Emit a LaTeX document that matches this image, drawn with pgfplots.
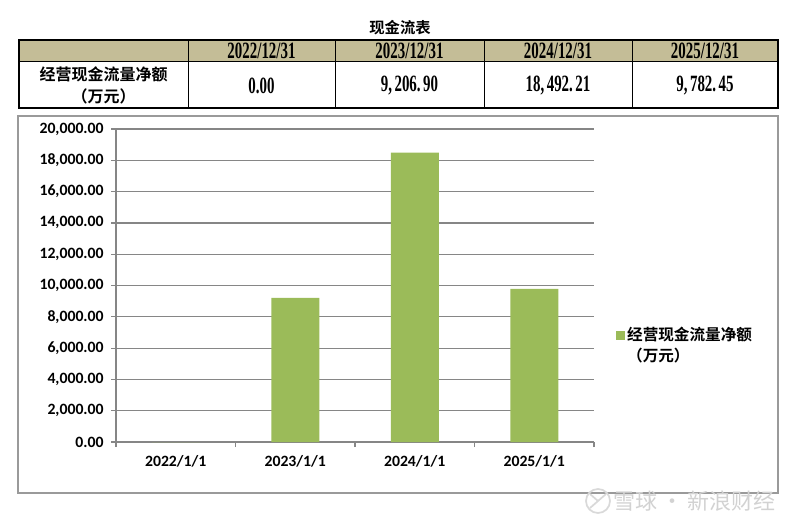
\documentclass[border=0pt]{standalone}
\usepackage{fontspec}
\setmainfont{Carlito}
\newfontfamily\cjk{Noto Sans CJK SC Bold}
\newfontfamily\cjklight{Noto Sans CJK SC}
\newfontfamily\tserif{Liberation Serif}
\usepackage{graphicx}
\usepackage{pgfplots}
\pgfplotsset{compat=1.18}
\definecolor{hdrtan}{HTML}{C4BD97}
\definecolor{bargreen}{HTML}{9BBB59}
\definecolor{gridgray}{HTML}{868686}
\definecolor{boxgray}{HTML}{9A9A9A}
% table numbers: tall, narrow serif digits
\newcommand{\tnum}[1]{\scalebox{0.64}[1]{\tserif\bfseries\fontsize{17.5}{17.5}\selectfont #1}}

\begin{document}
\begin{tikzpicture}[x=0.75pt,y=0.75pt]
\path[use as bounding box] (0,0) rectangle (800,522);

% title
\node[font=\cjk\fontsize{11.5}{12}\selectfont] at (400,494) {现金流表};

% table
\fill[hdrtan] (19,482) rectangle (778,460);
\draw[line width=0.75pt] (19,460) -- (778,460);
\foreach \x in {188,335,484,632} \draw[line width=0.75pt] (\x,482) -- (\x,414);
\draw[line width=1.5pt] (19,482) rectangle (778,414);
\node at (261.5,471) {\tnum{2022/12/31}};
\node at (409.5,471) {\tnum{2023/12/31}};
\node at (558,471) {\tnum{2024/12/31}};
\node at (705,471) {\tnum{2025/12/31}};
\node[font=\cjk\fontsize{12}{16.5}\selectfont, align=center] at (103.5,437) {经营现金流量净额\\（万元）};
\node at (261.5,436) {\tnum{0.00}};
\node at (409.5,436) {\tnum{9,\,206.\,90}};
\node at (558,436) {\tnum{18,\,492.\,21}};
\node at (705,436) {\tnum{9,\,782.\,45}};

% chart frame
\draw[boxgray, line width=1pt] (18,406) rectangle (778,29);

\begin{axis}[
    at={(87pt,60pt)}, anchor=south west,
    scale only axis,
    width=358.5pt, height=234.75pt,
    xmin=-0.5, xmax=3.5, ymin=0, ymax=20000,
    axis lines*=left,
    axis line style={gridgray, line width=0.9pt},
    ybar, bar width=36pt,
    xtick={0,1,2,3},
    xticklabels={2022/1/1,2023/1/1,2024/1/1,2025/1/1},
    major x tick style={draw=none},
    minor xtick={-0.5,0.5,1.5,2.5,3.5},
    ytick={0,2000,...,20000},
    ymajorgrids,
    grid style={gridgray, line width=0.9pt},
    tick align=outside,
    major tick length=3.75pt, minor tick length=3.75pt,
    tick style={gridgray, line width=0.9pt},
    tick label style={font=\bfseries\fontsize{11.8}{12}\selectfont, black},
    yticklabel={\pgfmathprintnumber[fixed, fixed zerofill, precision=2,
        1000 sep={,}, assume math mode=true]{\tick}},
    yticklabel style={xshift=-2pt},
    scaled y ticks=false,
    xticklabel style={yshift=-2.5pt},
    legend style={draw=none, fill=none, inner sep=0pt, outer sep=0pt,
        at={(1.045,0.38)}, anchor=north west,
        font=\cjk\fontsize{11.7}{15.75}\selectfont,
        cells={anchor=base west}},
    legend image code/.code={\fill[#1, draw=none] (0pt,0.5pt) rectangle (6.75pt,7.25pt);},
]
\addplot[fill=bargreen, draw=none] coordinates {(0,0) (1,9206.90) (2,18492.21) (3,9782.45)};
\addlegendentry{\begin{tabular}[t]{@{}l@{}}经营现金流量净额\\（万元）\end{tabular}}
\end{axis}

% watermark
\draw[gray!30, line width=1.3pt] (598,21) circle (12);
\draw[gray!30, line width=1.3pt] (590,14) -- (606,28) (590,28) -- (598,21);
\node[text=gray!35, font=\cjklight\fontsize{16.5}{17}\selectfont, anchor=west] at (609,21) {雪球\,·\,新浪财经};
\end{tikzpicture}
\end{document}
